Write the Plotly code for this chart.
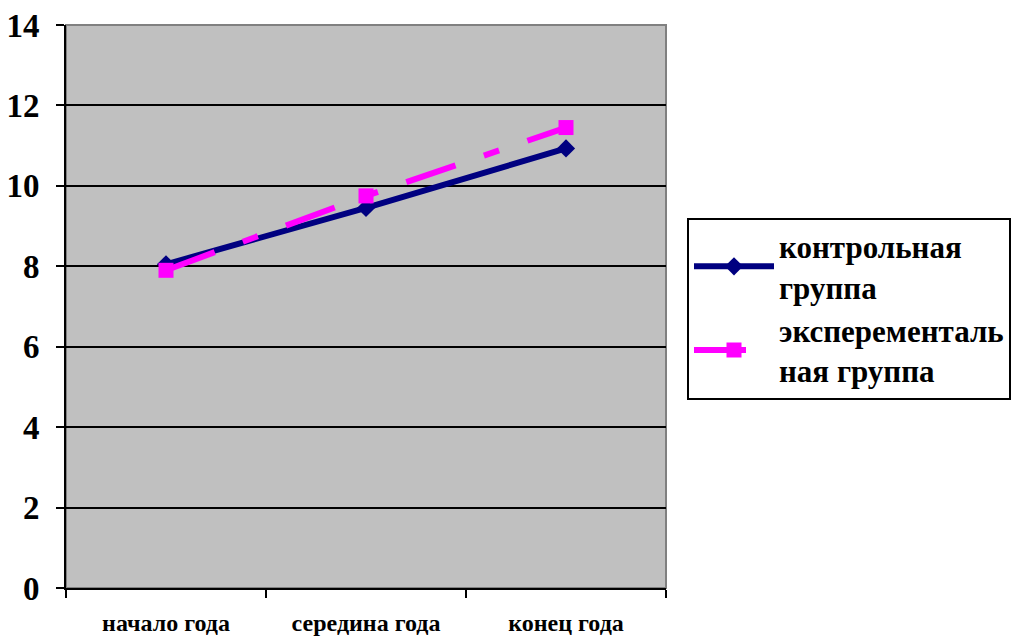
import plotly.graph_objects as go

categories = ["начало года", "середина года", "конец года"]
control = [8.05, 9.45, 10.93]
experimental = [7.9, 9.75, 11.45]
series_names = ["контрольная<br>группа", "эксперементаль<br>ная группа"]
y_ticks = [0, 2, 4, 6, 8, 10, 12, 14]

font_family = "Liberation Serif, Times New Roman, serif"


def bold(s):
    return "<b>" + s.replace("<br>", "</b><br><b>") + "</b>"


fig = go.Figure()
fig.add_trace(go.Scatter(
    x=categories, y=control, name=bold(series_names[0]),
    mode="lines+markers",
    line=dict(color="#000080", width=6),
    marker=dict(symbol="diamond", size=14, color="#000080"),
))
fig.add_trace(go.Scatter(
    x=categories, y=experimental, name=bold(series_names[1]),
    mode="lines+markers",
    line=dict(color="#FF00FF", width=6, dash="52px,30px,16px,30px"),
    marker=dict(symbol="square", size=15, color="#FF00FF"),
))

fig.update_layout(
    width=1017, height=640,
    margin=dict(l=66, r=351, t=25, b=52, autoexpand=False),
    paper_bgcolor="white",
    plot_bgcolor="#C0C0C0",
    font=dict(family=font_family, color="black"),
    showlegend=True,
    legend=dict(
        x=1.035, y=0.658, xanchor="left", yanchor="top",
        bgcolor="white", bordercolor="black", borderwidth=2,
        font=dict(family=font_family, size=31, color="black"),
        itemwidth=80, tracegroupgap=0,
    ),
    shapes=[dict(type="rect", xref="paper", yref="paper", x0=0, x1=1, y0=0, y1=1,
                 line=dict(color="#808080", width=2), layer="below")],
)
fig.update_xaxes(
    type="category", range=[-0.5, 2.5], tickson="boundaries",
    tickvals=categories, ticktext=[bold(c) for c in categories],
    showgrid=False, showline=True, linecolor="black", linewidth=2,
    ticks="outside", ticklen=8, tickwidth=2, tickcolor="black",
    tickfont=dict(family=font_family, size=24, color="black"),
    ticklabelstandoff=12,
)
fig.update_yaxes(
    range=[0, 14], tickvals=y_ticks, ticktext=[bold(str(v)) for v in y_ticks],
    showgrid=True, gridcolor="black", gridwidth=2,
    showline=True, linecolor="black", linewidth=2,
    ticks="outside", ticklen=8, tickwidth=2, tickcolor="black",
    tickfont=dict(family=font_family, size=33, color="black"),
    ticklabelstandoff=10, zeroline=False,
)

fig.write_html("out.html")
